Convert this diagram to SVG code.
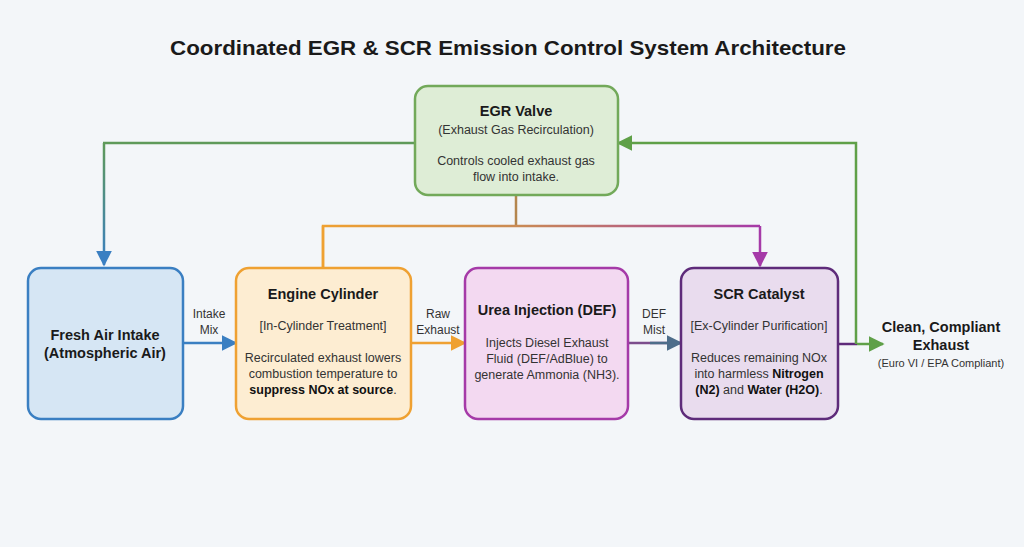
<svg xmlns="http://www.w3.org/2000/svg" width="1024" height="547" viewBox="0 0 1024 547">
<defs>
<style>
text{font-family:"Liberation Sans",Arial,sans-serif;fill:#1a1a1a;text-anchor:middle}
.t{font-size:21px;font-weight:bold}
.h{font-size:14.5px;font-weight:bold}
.s{font-size:12.5px;fill:#333}
.lb{font-size:12px;fill:#333}
.b{font-weight:bold;fill:#111}
.ln{fill:none;stroke-width:2.5}
</style>
<linearGradient id="gLeft" x1="0" y1="143" x2="0" y2="265" gradientUnits="userSpaceOnUse"><stop offset="0" stop-color="#5f9a5a"/><stop offset="1" stop-color="#3a7fc2"/></linearGradient>
<linearGradient id="gTop" x1="323" y1="0" x2="760" y2="0" gradientUnits="userSpaceOnUse"><stop offset="0" stop-color="#efa132"/><stop offset="0.45" stop-color="#c98a55"/><stop offset="1" stop-color="#a53aa8"/></linearGradient>
<marker id="aOr" viewBox="0 0 10 10" refX="9" refY="5" markerWidth="16" markerHeight="16" markerUnits="userSpaceOnUse" orient="auto"><path d="M0,0L10,5L0,10z" fill="#efa132"/></marker>
<marker id="aBl" viewBox="0 0 10 10" refX="9" refY="5" markerWidth="16" markerHeight="16" markerUnits="userSpaceOnUse" orient="auto"><path d="M0,0L10,5L0,10z" fill="#3a7fc2"/></marker>
<marker id="aSl" viewBox="0 0 10 10" refX="9" refY="5" markerWidth="16" markerHeight="16" markerUnits="userSpaceOnUse" orient="auto"><path d="M0,0L10,5L0,10z" fill="#4d6d8a"/></marker>
<marker id="aPu" viewBox="0 0 10 10" refX="9" refY="5" markerWidth="16" markerHeight="16" markerUnits="userSpaceOnUse" orient="auto"><path d="M0,0L10,5L0,10z" fill="#a53aa8"/></marker>
<marker id="aGr" viewBox="0 0 10 10" refX="9" refY="5" markerWidth="16" markerHeight="16" markerUnits="userSpaceOnUse" orient="auto"><path d="M0,0L10,5L0,10z" fill="#5fa048"/></marker>
</defs>
<rect width="1024" height="547" fill="#f3f6f9"/>
<text class="t" x="508" y="55" textLength="676" lengthAdjust="spacingAndGlyphs">Coordinated EGR &amp; SCR Emission Control System Architecture</text>

<g id="connectors">
<path class="ln" d="M104,143V265" stroke="url(#gLeft)" marker-end="url(#aBl)"/>
<path class="ln" d="M415,143H103" stroke="#5f9a5a"/>
<path class="ln" d="M516,195V226" stroke="#b4864e"/>
<path class="ln" d="M323,267V226H760" stroke="url(#gTop)"/>
<path class="ln" d="M323,267V226" stroke="#efa132"/>
<path class="ln" d="M760,226V266" stroke="#a53aa8" marker-end="url(#aPu)"/>
<path class="ln" d="M183,343H236" stroke="#3a7fc2" marker-end="url(#aBl)"/>
<path class="ln" d="M411,343H465" stroke="#efa132" marker-end="url(#aOr)"/>
<path class="ln" d="M628,343H681" stroke="#7b4d8c"/>
<path class="ln" d="M650,343H681" stroke="#4d6d8a" marker-end="url(#aSl)"/>
<path class="ln" d="M838,344H857" stroke="#5e2b7a"/>
<path class="ln" d="M857,344H883" stroke="#5fa048" marker-end="url(#aGr)"/>
<path class="ln" d="M856,344V143H618" stroke="#5fa048" marker-end="url(#aGr)"/>
</g>

<g id="labels">
<text class="lb" x="209" y="318">Intake</text>
<text class="lb" x="209" y="334">Mix</text>
<text class="lb" x="438" y="318">Raw</text>
<text class="lb" x="438" y="334">Exhaust</text>
<text class="lb" x="654" y="318">DEF</text>
<text class="lb" x="654" y="334">Mist</text>
</g>

<g id="egr">
<rect x="415" y="86" width="203" height="109" rx="13" fill="#deedd6" stroke="#72a95a" stroke-width="2.5"/>
<text class="h" x="516" y="116">EGR Valve</text>
<text class="s" x="516" y="134">(Exhaust Gas Recirculation)</text>
<text class="s" x="516" y="165">Controls cooled exhaust gas</text>
<text class="s" x="516" y="181">flow into intake.</text>
</g>

<g id="fresh">
<rect x="28" y="268" width="155" height="151" rx="13" fill="#d6e6f4" stroke="#3a7fc2" stroke-width="2.5"/>
<text class="h" x="105" y="340">Fresh Air Intake</text>
<text class="h" x="105" y="358">(Atmospheric Air)</text>
</g>

<g id="engine">
<rect x="236" y="268" width="175" height="151" rx="13" fill="#fdedd2" stroke="#efa132" stroke-width="2.5"/>
<text class="h" x="323" y="299">Engine Cylinder</text>
<text class="s" x="323" y="330">[In-Cylinder Treatment]</text>
<text class="s" x="323" y="362">Recirculated exhaust lowers</text>
<text class="s" x="323" y="378">combustion temperature to</text>
<text class="s" x="323" y="394"><tspan class="b">suppress NOx at source</tspan>.</text>
</g>

<g id="urea">
<rect x="465" y="268" width="163" height="151" rx="13" fill="#f3d9f1" stroke="#a53aa8" stroke-width="2.5"/>
<text class="h" x="547" y="315">Urea Injection (DEF)</text>
<text class="s" x="547" y="347">Injects Diesel Exhaust</text>
<text class="s" x="547" y="363">Fluid (DEF/AdBlue) to</text>
<text class="s" x="547" y="379">generate Ammonia (NH3).</text>
</g>

<g id="scr">
<rect x="681" y="268" width="157" height="151" rx="13" fill="#e9dcee" stroke="#5e2b7a" stroke-width="2.5"/>
<text class="h" x="759" y="299">SCR Catalyst</text>
<text class="s" x="759" y="330">[Ex-Cylinder Purification]</text>
<text class="s" x="759" y="362">Reduces remaining NOx</text>
<text class="s" x="759" y="378">into harmless <tspan class="b">Nitrogen</tspan></text>
<text class="s" x="759" y="394"><tspan class="b">(N2)</tspan> and <tspan class="b">Water (H2O)</tspan>.</text>
</g>

<g id="clean">
<text class="h" x="941" y="332">Clean, Compliant</text>
<text class="h" x="941" y="350">Exhaust</text>
<text class="s" x="941" y="367" style="font-size:11px">(Euro VI / EPA Compliant)</text>
</g>
</svg>
